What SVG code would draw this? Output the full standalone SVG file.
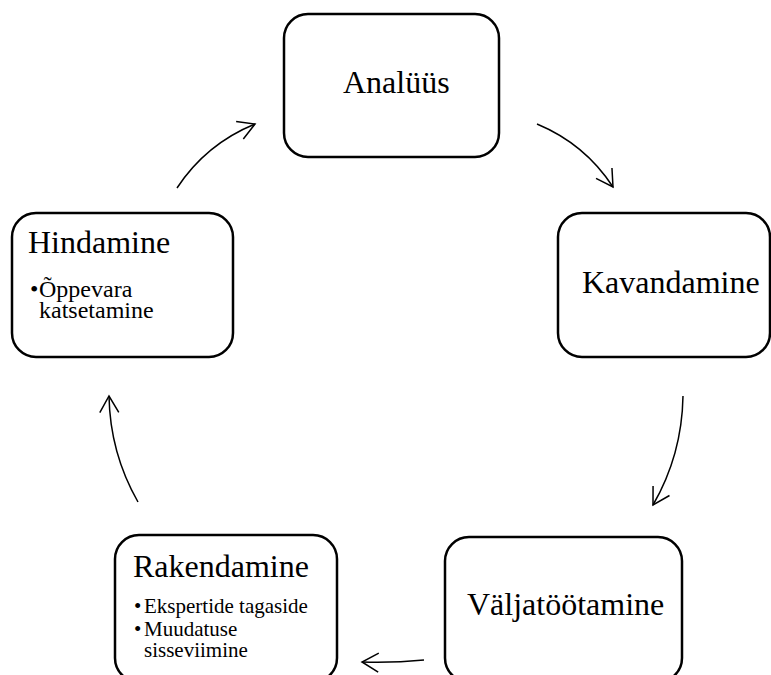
<svg xmlns="http://www.w3.org/2000/svg" width="771" height="675" viewBox="0 0 771 675">
<style>
.box{fill:#fff;stroke:#000;stroke-width:2.5}
.t{font-family:"Liberation Serif","Times New Roman",serif;fill:#000}
.title{font-size:32px}
.b1{font-size:24px}
.b2{font-size:21px}
.c{fill:none;stroke:#000;stroke-width:1.5;marker-end:url(#ah)}
</style>
<defs>
<marker id="ah" markerUnits="userSpaceOnUse" markerWidth="24" markerHeight="24" viewBox="-20 -12 24 24" refX="0" refY="0" orient="auto">
<path d="M-16.5,-9.5 L0,0 L-16.5,9.5" fill="none" stroke="#000" stroke-width="1.5"/>
</marker>
</defs>
<rect width="771" height="675" fill="#fff"/>
<g id="connectors">
<path class="c" d="M537,124 Q585,144 613,187"/>
<path class="c" d="M683,396 Q682,455 653,505"/>
<path class="c" d="M424,660 Q393,663 362,662"/>
<path class="c" d="M138,502 Q110,453 109,396"/>
<path class="c" d="M177,188 Q206,144 255,124"/>
</g>
<g id="analuus">
<rect class="box" x="284" y="14" width="215" height="143" rx="24"/>
<text class="t title" x="343" y="93">Analüüs</text>
</g>
<g id="kavandamine">
<rect class="box" x="558" y="213" width="212" height="144" rx="24"/>
<text class="t title" x="582" y="293">Kavandamine</text>
</g>
<g id="valjatootamine">
<rect class="box" x="445" y="537" width="237" height="145" rx="24"/>
<text class="t title" x="467" y="615">Väljatöötamine</text>
</g>
<g id="rakendamine">
<rect class="box" x="115" y="535" width="222" height="147" rx="24"/>
<text class="t title" x="133" y="577">Rakendamine</text>
<text class="t b2" y="613"><tspan x="134">•</tspan><tspan x="144">Ekspertide tagaside</tspan></text>
<text class="t b2" y="636"><tspan x="134">•</tspan><tspan x="144">Muudatuse</tspan></text>
<text class="t b2" x="144" y="657">sisseviimine</text>
</g>
<g id="hindamine">
<rect class="box" x="12" y="213" width="221" height="144" rx="24"/>
<text class="t title" x="28" y="253">Hindamine</text>
<text class="t b1" y="297"><tspan x="30">•</tspan><tspan x="39">Õppevara</tspan></text>
<text class="t b1" x="39" y="318">katsetamine</text>
</g>
</svg>
